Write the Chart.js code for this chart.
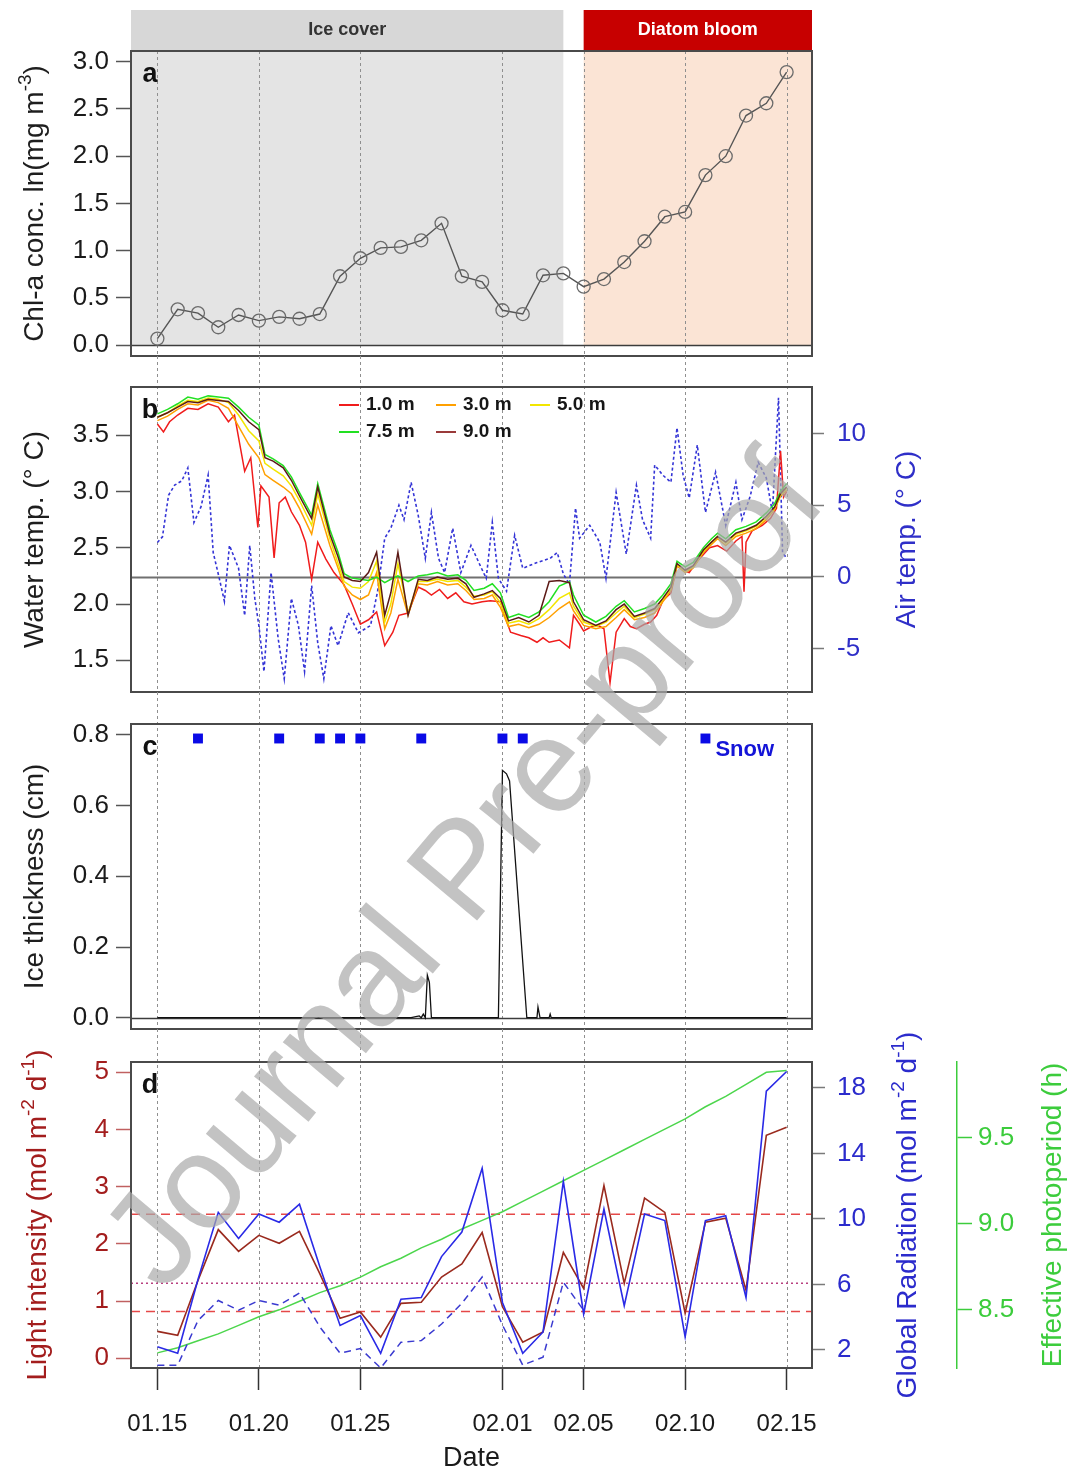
<!DOCTYPE html>
<html>
<head>
<meta charset="utf-8">
<title>Chl-a, water temperature, ice and light, January–February</title>
<script src="https://cdn.jsdelivr.net/npm/chart.js"></script>
<style>
  html, body { margin: 0; padding: 0; background: #ffffff; }
  #figure { position: relative; width: 1070px; height: 1475px; overflow: hidden; background: #ffffff; }
  #figure canvas { position: absolute; left: 0; top: 0; }
</style>
</head>
<body>
<div id="figure">
  <canvas id="panelA" width="1070" height="1475"></canvas>
  <canvas id="panelB" width="1070" height="1475"></canvas>
  <canvas id="panelC" width="1070" height="1475"></canvas>
  <canvas id="panelD" width="1070" height="1475"></canvas>
</div>
<script>
// ---------- dates (day number counted from 15 January) ----------
const dateTickDays   = [0, 5, 10, 17, 21, 26, 31];
const dateTickLabels = ['01.15', '01.20', '01.25', '02.01', '02.05', '02.10', '02.15'];
const sampleDays = [0, 1, 2, 3, 4, 5, 6, 7, 8, 9, 10, 11, 12, 13, 14, 15,
                    16, 17, 18, 19, 20, 21, 22, 23, 24, 25, 26, 27, 28, 29, 30, 31];

// ---------- periods ----------
const periodLabels = ['Ice cover', 'Diatom bloom'];
const iceCoverEndDay = 20;
const bloomStartDay = 21;

// ---------- (a) chlorophyll-a, ln(mg m-3) ----------
const chlA = [0.07, 0.38, 0.34, 0.19, 0.32, 0.26, 0.30, 0.28, 0.33, 0.73, 0.92, 1.03, 1.04, 1.11, 1.29, 0.73,
              0.67, 0.37, 0.33, 0.74, 0.76, 0.62, 0.70, 0.88, 1.10, 1.36, 1.41, 1.80, 2.00, 2.43, 2.56, 2.89];
const chlTicks = [0, 0.5, 1, 1.5, 2, 2.5, 3];

// ---------- (b) water temperature by depth [day, °C] ----------
const waterTemp1m = [[0,3.60],[0.3,3.53],[0.6,3.62],[1,3.68],[1.5,3.74],[2,3.73],[2.5,3.78],[3,3.75],[3.5,3.62],[3.8,3.68],
  [4.3,3.18],[4.6,3.30],[4.95,2.68],[5.1,3.05],[5.5,2.95],[5.75,2.41],[6.0,2.90],[6.3,2.95],[6.6,2.82],[7.0,2.70],
  [7.3,2.55],[7.6,2.22],[7.9,2.55],[8.3,2.40],[8.7,2.28],[9.2,2.17],[9.6,2.00],[10.0,1.82],[10.4,1.86],[10.8,1.93],
  [11.2,1.63],[11.6,1.75],[11.9,1.90],[12.35,1.92],[12.85,2.15],[13.2,2.12],[13.5,2.08],[13.9,2.13],[14.3,2.05],[14.7,2.10],
  [15.1,2.02],[15.5,2.00],[16.0,2.02],[16.4,2.03],[16.9,2.02],[17.2,1.85],[17.4,1.75],[17.9,1.72],[18.3,1.70],[18.7,1.66],
  [19.0,1.70],[19.3,1.66],[19.8,1.68],[20.3,1.61],[20.5,1.90],[20.8,1.82],[21.0,1.76],[21.4,1.80],[21.7,1.81],[22.0,1.78],
  [22.3,1.30],[22.6,1.75],[23.0,1.87],[23.3,1.80],[23.6,1.78],[24.0,1.82],[24.3,1.84],[24.6,1.90],[24.9,2.03],[25.3,2.10],
  [25.6,2.34],[25.9,2.30],[26.2,2.28],[26.6,2.38],[26.9,2.44],[27.2,2.50],[27.6,2.52],[28.05,2.47],[28.5,2.56],[28.8,2.60],
  [28.9,2.11],[29.0,2.55],[29.3,2.65],[29.8,2.70],[30.2,2.76],[30.5,2.85],[30.7,3.36],[30.85,2.95],[31,3.00]];
const waterTemp3m = [[0,3.63],[0.5,3.67],[1,3.73],[1.5,3.78],[2,3.77],[2.5,3.81],[3,3.79],[3.5,3.74],[4,3.58],[4.5,3.42],
  [5,3.30],[5.3,3.15],[5.7,3.10],[6.2,3.04],[6.6,2.98],[7,2.85],[7.6,2.62],[7.9,2.88],[8.5,2.52],[8.9,2.32],
  [9.2,2.16],[9.6,2.08],[10.0,2.04],[10.4,2.08],[10.8,2.28],[11.2,1.78],[11.5,1.92],[11.85,2.22],[12.35,1.90],[12.85,2.18],
  [13.3,2.17],[13.8,2.20],[14.3,2.17],[14.8,2.18],[15.2,2.12],[15.6,2.04],[16.1,2.05],[16.5,2.08],[16.9,1.97],[17.3,1.80],
  [17.8,1.82],[18.3,1.79],[18.8,1.82],[19.3,1.88],[19.8,1.96],[20.3,2.02],[20.5,1.94],[21.0,1.81],[21.6,1.78],[22.1,1.80],
  [22.6,1.88],[23.0,1.95],[23.5,1.86],[24.0,1.88],[24.5,1.92],[24.9,2.02],[25.3,2.12],[25.6,2.34],[26.0,2.28],[26.4,2.32],
  [26.9,2.46],[27.3,2.53],[27.6,2.58],[28.0,2.52],[28.5,2.60],[29.0,2.63],[29.5,2.67],[30.0,2.75],[30.4,2.84],[30.7,2.96],[31,3.01]];
const waterTemp5m = [[0,3.66],[0.5,3.70],[1,3.76],[1.5,3.81],[2,3.80],[2.5,3.83],[3,3.82],[3.5,3.79],[4,3.68],[4.5,3.54],
  [5,3.45],[5.3,3.25],[5.7,3.20],[6.2,3.14],[6.6,3.05],[7,2.92],[7.6,2.70],[7.9,2.98],[8.5,2.58],[8.9,2.36],
  [9.2,2.20],[9.6,2.15],[10.0,2.14],[10.4,2.20],[10.8,2.38],[11.2,1.84],[11.5,2.00],[11.85,2.36],[12.35,1.92],[12.85,2.20],
  [13.3,2.20],[13.8,2.22],[14.3,2.20],[14.8,2.21],[15.2,2.15],[15.6,2.07],[16.1,2.08],[16.5,2.11],[16.9,2.01],[17.3,1.83],
  [17.8,1.85],[18.3,1.82],[18.8,1.87],[19.3,1.95],[19.8,2.05],[20.3,2.10],[20.5,1.98],[21.0,1.84],[21.6,1.80],[22.1,1.84],
  [22.6,1.92],[23.0,1.98],[23.5,1.88],[24.0,1.91],[24.5,1.95],[24.9,2.04],[25.3,2.14],[25.6,2.35],[26.0,2.29],[26.4,2.33],
  [26.9,2.47],[27.3,2.55],[27.6,2.60],[28.0,2.54],[28.5,2.62],[29.0,2.65],[29.5,2.69],[30.0,2.77],[30.4,2.85],[30.7,2.97],[31,3.03]];
const waterTemp7m5 = [[0,3.69],[0.5,3.73],[1,3.78],[1.5,3.84],[2,3.82],[2.5,3.85],[3,3.84],[3.5,3.83],[4,3.75],[4.5,3.66],
  [5,3.59],[5.3,3.33],[5.7,3.29],[6.2,3.23],[6.6,3.13],[7,2.99],[7.6,2.79],[7.9,3.07],[8.5,2.66],[8.9,2.46],
  [9.2,2.27],[9.6,2.23],[10.0,2.22],[10.4,2.21],[10.8,2.24],[11.2,2.19],[11.5,2.22],[11.85,2.25],[12.35,2.20],[12.85,2.25],
  [13.3,2.26],[13.8,2.28],[14.3,2.25],[14.8,2.26],[15.2,2.21],[15.6,2.12],[16.1,2.14],[16.5,2.18],[16.9,2.10],[17.3,1.88],
  [17.8,1.91],[18.3,1.88],[18.8,1.93],[19.3,2.02],[19.8,2.16],[20.3,2.20],[20.5,2.08],[21.0,1.90],[21.6,1.84],[22.1,1.89],
  [22.6,1.98],[23.0,2.03],[23.5,1.93],[24.0,1.96],[24.5,2.00],[24.9,2.08],[25.3,2.18],[25.6,2.38],[26.0,2.33],[26.4,2.37],
  [26.9,2.50],[27.3,2.58],[27.6,2.63],[28.0,2.58],[28.5,2.66],[29.0,2.69],[29.5,2.73],[30.0,2.81],[30.4,2.89],[30.7,3.00],[31,3.07]];
const waterTemp9m = [[0,3.66],[0.5,3.70],[1,3.75],[1.5,3.80],[2,3.79],[2.5,3.82],[3,3.81],[3.5,3.80],[4,3.72],[4.5,3.62],
  [5,3.55],[5.3,3.30],[5.7,3.27],[6.2,3.21],[6.6,3.10],[7,2.96],[7.6,2.76],[7.9,3.04],[8.5,2.62],[8.9,2.42],
  [9.2,2.24],[9.6,2.21],[10.0,2.20],[10.4,2.28],[10.8,2.46],[11.2,1.90],[11.5,2.10],[11.85,2.46],[12.35,1.90],[12.85,2.22],
  [13.3,2.21],[13.8,2.24],[14.3,2.22],[14.8,2.23],[15.2,2.18],[15.6,2.06],[16.1,2.09],[16.5,2.12],[16.9,2.05],[17.3,1.85],
  [17.8,1.88],[18.3,1.84],[18.8,1.90],[19.3,2.20],[19.8,2.21],[20.3,2.19],[20.5,2.02],[21.0,1.86],[21.6,1.81],[22.1,1.85],
  [22.6,1.95],[23.0,2.00],[23.5,1.89],[24.0,1.92],[24.5,1.96],[24.9,2.05],[25.3,2.15],[25.6,2.36],[26.0,2.30],[26.4,2.34],
  [26.9,2.48],[27.3,2.55],[27.6,2.60],[28.0,2.55],[28.5,2.63],[29.0,2.66],[29.5,2.70],[30.0,2.78],[30.4,2.86],[30.7,2.98],[31,3.04]];
const waterTicks = [1.5, 2, 2.5, 3, 3.5];

// ---------- (b) air temperature [day, °C] ----------
const airTemp = [[0,2.4],[0.25,2.8],[0.55,5.7],[0.85,6.4],[1.2,6.7],[1.5,7.6],[1.8,3.8],[2.15,4.9],[2.5,7.1],[2.75,1.7],
  [3.05,-0.1],[3.3,-1.7],[3.55,2.2],[4.0,0.6],[4.3,-2.7],[4.55,2.2],[4.8,-1.5],[5.0,-3.4],[5.25,-6.6],[5.6,0.3],
  [5.95,-4.3],[6.25,-7.1],[6.6,-1.5],[6.95,-3.4],[7.25,-6.6],[7.6,-0.6],[7.9,-4.6],[8.2,-7.1],[8.55,-3.4],[8.9,-4.8],
  [9.4,-2.5],[9.9,-3.9],[10.5,-3.4],[10.85,-1.0],[11.2,2.7],[11.5,3.4],[11.9,5.0],[12.15,4.0],[12.5,6.6],[12.85,4.3],
  [13.2,1.3],[13.5,4.5],[13.85,1.3],[14.15,0.3],[14.55,3.4],[14.95,0.3],[15.45,2.2],[15.9,0.8],[16.2,-0.1],[16.5,3.8],
  [16.8,-0.1],[17.2,-1.0],[17.6,2.9],[18.0,0.6],[18.7,1.0],[19.35,1.3],[19.7,1.7],[20.0,0.2],[20.3,-0.5],[20.6,4.8],
  [20.8,2.7],[21.3,3.6],[21.8,2.4],[22.1,-0.1],[22.6,5.9],[23.1,1.6],[23.6,6.4],[23.9,4.0],[24.3,2.7],[24.5,7.8],
  [24.9,7.1],[25.3,6.6],[25.6,10.4],[25.9,7.1],[26.2,5.5],[26.6,9.2],[27.0,4.5],[27.5,7.3],[28.0,3.6],[28.5,6.6],
  [28.8,4.0],[29.2,5.6],[29.6,8.0],[30.0,6.9],[30.3,4.5],[30.6,12.5],[30.8,1.7],[31.0,1.3]];
const airTicks = [-5, 0, 5, 10];

// ---------- (c) ice thickness [day, cm] and snow days ----------
const iceThickness = [[0,0],[12.5,0],[12.9,0.005],[13.0,0],[13.1,0.01],[13.2,0],[13.3,0.12],[13.4,0.10],[13.5,0],
  [16.8,0],[17.0,0.70],[17.2,0.69],[17.35,0.67],[18.2,0],[18.7,0],[18.75,0.03],[18.85,0],[19.3,0],[19.35,0.01],[19.4,0],[31,0]];
const snowDays = [2, 6, 8, 9, 10, 13, 17, 18, 27];
const snowMarkLevel = 0.79;
const snowLabel = 'Snow';
const iceTicks = [0, 0.2, 0.4, 0.6, 0.8];

// ---------- (d) light ----------
const lightIntensity  = [0.47, 0.40, 1.36, 2.25, 1.87, 2.15, 2.01, 2.22, 1.48, 0.70, 0.81, 0.37, 0.96, 0.98, 1.42, 1.65,
                         2.20, 0.90, 0.28, 0.46, 1.85, 1.22, 3.02, 1.31, 2.80, 2.55, 0.79, 2.38, 2.45, 1.19, 3.90, 4.04];
const globalRadiation = [2.2, 1.8, 6.3, 10.4, 8.8, 10.3, 9.8, 10.9, 7.1, 3.5, 4.1, 1.8, 5.1, 5.2, 7.7, 9.2,
                         13.1, 4.9, 1.8, 3.1, 12.3, 4.2, 10.6, 4.7, 10.3, 9.9, 2.8, 9.9, 10.2, 5.2, 17.8, 19.0];
const underIceLight   = [-0.12, -0.12, 0.66, 1.01, 0.84, 1.01, 0.93, 1.14, 0.55, 0.09, 0.17, -0.17, 0.28, 0.31, 0.60, 0.96,
                         1.42, 0.58, -0.12, 0.02, 1.33, 0.84];
const photoperiod     = [8.25, 8.28, 8.32, 8.36, 8.41, 8.46, 8.50, 8.55, 8.60, 8.64, 8.69, 8.75, 8.80, 8.86, 8.91, 8.97,
                         9.02, 9.07, 9.13, 9.19, 9.25, 9.31, 9.37, 9.43, 9.49, 9.55, 9.61, 9.68, 9.74, 9.81, 9.88, 9.89];
const lightThresholds = [2.52, 1.31, 0.82];
const lightTicks = [0, 1, 2, 3, 4, 5];
const radiationTicks = [2, 6, 10, 14, 18];
const photoperiodTicks = [8.5, 9, 9.5];

// ---------- layout ----------
const FONT = '"Liberation Sans", Arial, Helvetica, sans-serif';
const W = 1070, H = 1475;
const PLOT_LEFT = 131, PLOT_RIGHT = 812;
const HEADER_TOP = 10;
const BOX = { a: [51, 356], b: [387, 692], c: [724, 1029], d: [1062, 1368] };
const X_MIN = -1.3, X_MAX = 32.25;
const BOTTOM_AXIS_H = H - BOX.d[1];

const pairs = list => list.map(([x, y]) => ({ x, y }));
const daily = vals => vals.map((y, i) => ({ x: sampleDays[i], y }));
const oneDecimal = v => v.toFixed(1);

function parseRich(str) {
  const parts = [], re = /\^\{([^}]*)\}/g;
  let last = 0, m;
  while ((m = re.exec(str))) {
    if (m.index > last) parts.push({ t: str.slice(last, m.index) });
    parts.push({ t: m[1], sup: true });
    last = re.lastIndex;
  }
  if (last < str.length) parts.push({ t: str.slice(last) });
  return parts;
}

// vertical axis title, reading bottom to top, with raised exponents
function drawVerticalTitle(ctx, text, cx, cy, color, size) {
  const parts = parseRich(text);
  const base = size + 'px ' + FONT, small = Math.round(size * 0.68) + 'px ' + FONT;
  let total = 0;
  parts.forEach(p => { ctx.font = p.sup ? small : base; p.w = ctx.measureText(p.t).width; total += p.w; });
  ctx.save();
  ctx.translate(cx, cy);
  ctx.rotate(-Math.PI / 2);
  ctx.fillStyle = color;
  ctx.textAlign = 'left';
  ctx.textBaseline = 'alphabetic';
  let x = -total / 2;
  const baseY = size * 0.36;
  parts.forEach(p => {
    ctx.font = p.sup ? small : base;
    ctx.fillText(p.t, x, p.sup ? baseY - size * 0.42 : baseY);
    x += p.w;
  });
  ctx.restore();
}

const decoPlugin = {
  id: 'deco',
  beforeDatasetsDraw(chart, args, o) {
    const { ctx, chartArea: ca, scales } = chart;
    const xs = scales.x;
    ctx.save();
    if (o.phases) {
      const y0 = scales.y.getPixelForValue(0);
      const xIce = xs.getPixelForValue(iceCoverEndDay);
      const xBloom = xs.getPixelForValue(bloomStartDay);
      ctx.fillStyle = '#e4e4e4';
      ctx.fillRect(ca.left, ca.top, xIce - ca.left, y0 - ca.top);
      ctx.fillStyle = '#fbe4d5';
      ctx.fillRect(xBloom, ca.top, ca.right - xBloom, y0 - ca.top);
      // period headers above the panel
      ctx.fillStyle = '#d7d7d7';
      ctx.fillRect(ca.left, HEADER_TOP, xIce - ca.left, ca.top - HEADER_TOP);
      ctx.fillStyle = '#c70000';
      ctx.fillRect(xBloom, HEADER_TOP, ca.right - xBloom, ca.top - HEADER_TOP);
      ctx.font = 'bold 18px ' + FONT;
      ctx.textAlign = 'center';
      ctx.textBaseline = 'middle';
      const hy = (HEADER_TOP + ca.top) / 2;
      ctx.fillStyle = '#333333';
      ctx.fillText(periodLabels[0], (ca.left + xIce) / 2, hy);
      ctx.fillStyle = '#ffffff';
      ctx.fillText(periodLabels[1], (xBloom + ca.right) / 2, hy);
    }
    // dashed date guides, running on through the gap above the panel
    const top = o.lineTop != null ? o.lineTop : ca.top;
    ctx.strokeStyle = '#8f8f8f';
    ctx.lineWidth = 1;
    ctx.setLineDash([3, 3]);
    dateTickDays.forEach(d => {
      const x = Math.round(xs.getPixelForValue(d)) + 0.5;
      ctx.beginPath(); ctx.moveTo(x, top); ctx.lineTo(x, ca.bottom); ctx.stroke();
    });
    ctx.setLineDash([]);
    if (o.zeroLine) {
      const y = Math.round(scales[o.zeroLine.axis].getPixelForValue(0)) + 0.5;
      ctx.strokeStyle = o.zeroLine.color;
      ctx.lineWidth = o.zeroLine.width;
      ctx.beginPath(); ctx.moveTo(ca.left, y); ctx.lineTo(ca.right, y); ctx.stroke();
    }
    ctx.restore();
  },
  afterDatasetsDraw(chart, args, o) {
    const { ctx, chartArea: ca } = chart;
    ctx.save();
    ctx.strokeStyle = '#4a4a4a';
    ctx.lineWidth = 2;
    ctx.strokeRect(ca.left, ca.top, ca.right - ca.left, ca.bottom - ca.top);
    if (o.letter) {
      ctx.font = 'bold 27px ' + FONT;
      ctx.fillStyle = '#111';
      ctx.textAlign = 'center';
      ctx.textBaseline = 'middle';
      ctx.fillText(o.letter, ca.left + 19, ca.top + 24);
    }
    if (o.legend) {
      const L = o.legend;
      ctx.font = 'bold 19px ' + FONT;
      ctx.textAlign = 'left';
      ctx.textBaseline = 'middle';
      L.rows.forEach((row, r) => row.forEach((label, c) => {
        const ds = chart.data.datasets.find(d => d.label === label);
        const x = ca.left + L.cols[c], y = ca.top + L.rowY[r];
        ctx.strokeStyle = ds.legendColor || ds.borderColor;
        ctx.lineWidth = 2;
        ctx.beginPath(); ctx.moveTo(x, y); ctx.lineTo(x + 20, y); ctx.stroke();
        ctx.fillStyle = '#161616';
        ctx.fillText(label, x + 27, y);
      }));
    }
    if (o.snowLabel) {
      const meta = chart.getDatasetMeta(o.snowLabel.dataset);
      const pt = meta.data[meta.data.length - 1];
      ctx.font = 'bold 22px ' + FONT;
      ctx.fillStyle = '#1414d8';
      ctx.textAlign = 'left';
      ctx.textBaseline = 'middle';
      ctx.fillText(o.snowLabel.text, pt.x + 10, pt.y + 11);
    }
    ctx.restore();
  },
  afterDraw(chart, args, o) {
    const { ctx, chartArea: ca } = chart;
    const cy = (ca.top + ca.bottom) / 2;
    (o.titles || []).forEach(t => drawVerticalTitle(ctx, t.text, t.x, cy, t.color, 28));
    if (o.watermark) {
      const wm = o.watermark;
      ctx.save();
      ctx.translate(wm.x, wm.y);
      ctx.rotate(wm.angle * Math.PI / 180);
      ctx.font = wm.size + 'px ' + FONT;
      ctx.fillStyle = 'rgba(170,170,170,0.7)';
      ctx.textAlign = 'center';
      ctx.textBaseline = 'middle';
      ctx.fillText(wm.text, 0, 0);
      ctx.restore();
    }
  }
};
Chart.register(decoPlugin);

function valueAxis(cfg) {
  return {
    type: 'linear',
    position: cfg.position || 'left',
    min: cfg.min, max: cfg.max,
    afterBuildTicks: s => { s.ticks = cfg.ticks.map(v => ({ value: v })); },
    afterFit: s => { s.width = cfg.width; },
    border: cfg.axisLine ? { display: true, color: cfg.axisLine, width: 1.5 } : { display: false },
    grid: { display: true, drawOnChartArea: false, drawTicks: true,
            tickLength: cfg.tickLength || 15, tickColor: cfg.tickColor || '#555', tickWidth: 1.5 },
    ticks: { autoSkip: false, padding: cfg.padding == null ? 7 : cfg.padding,
             color: cfg.color || '#1a1a1a', font: { family: FONT, size: 26 },
             callback: cfg.format || (v => String(v)) }
  };
}

function dateAxis(show) {
  return {
    type: 'linear', display: show, min: X_MIN, max: X_MAX,
    afterBuildTicks: s => { s.ticks = dateTickDays.map(v => ({ value: v })); },
    afterFit: s => { if (show) s.height = BOTTOM_AXIS_H; },
    border: { display: false },
    grid: { display: true, drawOnChartArea: false, drawTicks: true, tickLength: 22, tickColor: '#333', tickWidth: 1.5 },
    ticks: { autoSkip: false, maxRotation: 0, padding: 20, color: '#1a1a1a',
             font: { family: FONT, size: 24 }, callback: (v, i) => dateTickLabels[i] },
    title: { display: show, text: 'Date', color: '#1a1a1a', font: { family: FONT, size: 27 },
             padding: { top: 0, bottom: 0 } }
  };
}

function baseOptions(box, padRight, axisBottom, scales, deco) {
  return {
    responsive: false, animation: false, devicePixelRatio: 1, events: [],
    layout: { padding: { left: 0, right: padRight, top: box[0], bottom: H - box[1] - axisBottom } },
    scales,
    plugins: { legend: { display: false }, tooltip: { enabled: false }, deco }
  };
}

function lineSet(label, data, color, width, extra) {
  return Object.assign({ label, data, borderColor: color, backgroundColor: color, borderWidth: width,
                         pointRadius: 0, fill: false, tension: 0 }, extra || {});
}

// ---------- (a) ----------
new Chart(document.getElementById('panelA'), {
  type: 'line',
  data: { datasets: [
    lineSet('Chl-a', daily(chlA), '#555555', 1.4,
            { pointRadius: 6.5, pointBorderColor: '#6b6b6b', pointBackgroundColor: 'rgba(0,0,0,0)', pointBorderWidth: 1.3 })
  ]},
  options: baseOptions(BOX.a, W - PLOT_RIGHT, 0, {
    x: dateAxis(false),
    y: valueAxis({ min: -0.114, max: 3.113, ticks: chlTicks, width: PLOT_LEFT, format: oneDecimal })
  }, {
    letter: 'a', phases: true,
    zeroLine: { axis: 'y', color: '#3c3c3c', width: 1.6 },
    titles: [{ text: 'Chl-a conc. ln(mg m^{-3})', x: 33, color: '#1e1e1e' }]
  })
});

// ---------- (b) ----------
new Chart(document.getElementById('panelB'), {
  type: 'line',
  data: { datasets: [
    lineSet('9.0 m', pairs(waterTemp9m), '#5c1a16', 1.5, { legendColor: '#9a3a3a' }),
    lineSet('7.5 m', pairs(waterTemp7m5), '#22e022', 1.5),
    lineSet('5.0 m', pairs(waterTemp5m), '#f2e600', 1.5),
    lineSet('3.0 m', pairs(waterTemp3m), '#ffa000', 1.5),
    lineSet('1.0 m', pairs(waterTemp1m), '#f01c1c', 1.5),
    lineSet('Air', pairs(airTemp), '#3434d6', 1.6, { borderDash: [3, 2.5], yAxisID: 'yA' })
  ]},
  options: baseOptions(BOX.b, 0, 0, {
    x: dateAxis(false),
    y: valueAxis({ min: 1.218, max: 3.929, ticks: waterTicks, width: PLOT_LEFT, format: oneDecimal }),
    yA: valueAxis({ position: 'right', min: -8.03, max: 13.25, ticks: airTicks, width: W - PLOT_RIGHT,
                    color: '#2f2fc8', tickColor: '#7a7a7a', axisLine: '#3a3ad0', tickLength: 12, padding: 13 })
  }, {
    letter: 'b', lineTop: BOX.a[1],
    zeroLine: { axis: 'yA', color: '#707070', width: 2 },
    legend: { rows: [['1.0 m', '3.0 m', '5.0 m'], ['7.5 m', '9.0 m']], cols: [208, 305, 399], rowY: [18, 45] },
    titles: [{ text: 'Water temp. (° C)', x: 33, color: '#1e1e1e' },
             { text: 'Air temp. (° C)', x: 905, color: '#2f2fc8' }]
  })
});

// ---------- (c) ----------
new Chart(document.getElementById('panelC'), {
  type: 'line',
  data: { datasets: [
    lineSet('Snow', snowDays.map(d => ({ x: d, y: snowMarkLevel })), '#0a0ae6', 0,
            { showLine: false, pointStyle: 'rect', pointRadius: 7, pointBorderWidth: 0, pointBackgroundColor: '#0a0ae6' }),
    lineSet('Ice thickness', pairs(iceThickness), '#111111', 1.3)
  ]},
  options: baseOptions(BOX.c, W - PLOT_RIGHT, 0, {
    x: dateAxis(false),
    y: valueAxis({ min: -0.032, max: 0.831, ticks: iceTicks, width: PLOT_LEFT, format: oneDecimal })
  }, {
    letter: 'c', lineTop: BOX.b[1],
    zeroLine: { axis: 'y', color: '#3c3c3c', width: 1.6 },
    snowLabel: { dataset: 0, text: snowLabel },
    titles: [{ text: 'Ice thickness (cm)', x: 33, color: '#1e1e1e' }]
  })
});

// ---------- (d) ----------
new Chart(document.getElementById('panelD'), {
  type: 'line',
  data: { datasets: [
    lineSet('Global radiation', daily(globalRadiation), '#2a2ae6', 1.6, { yAxisID: 'yG' }),
    lineSet('Light intensity', daily(lightIntensity), '#9a2a1e', 1.6),
    lineSet('Under-ice light', daily(underIceLight), '#3a3ad0', 1.5, { borderDash: [7, 5] }),
    lineSet('Photoperiod', daily(photoperiod), '#4cd64c', 1.5, { yAxisID: 'yP' }),
    ...lightThresholds.map((v, i) => lineSet('Threshold ' + v, [{ x: X_MIN, y: v }, { x: X_MAX, y: v }],
        i === 1 ? '#b8407f' : '#e54848', 1.5, { borderDash: i === 1 ? [2, 3] : [9, 6] }))
  ]},
  options: baseOptions(BOX.d, 0, BOTTOM_AXIS_H, {
    x: dateAxis(true),
    y: valueAxis({ min: -0.17, max: 5.18, ticks: lightTicks, width: PLOT_LEFT, color: '#a31d1d',
                   tickColor: '#c06060', axisLine: '#c05050' }),
    yG: valueAxis({ position: 'right', min: 0.90, max: 19.58, ticks: radiationTicks, width: 145,
                    color: '#2b2bcc', tickColor: '#7a7a7a', axisLine: '#3a3ad0', tickLength: 13, padding: 12 }),
    yP: valueAxis({ position: 'right', min: 8.162, max: 9.94, ticks: photoperiodTicks, width: W - PLOT_RIGHT - 145,
                    color: '#3ccc3c', tickColor: '#3ccc3c', axisLine: '#3ccc3c', tickLength: 15, padding: 6,
                    format: oneDecimal })
  }, {
    letter: 'd', lineTop: BOX.c[1],
    titles: [{ text: 'Light intensity (mol m^{-2} d^{-1})', x: 36, color: '#a31d1d' },
             { text: 'Global Radiation (mol m^{-2} d^{-1})', x: 906, color: '#2b2bcc' },
             { text: 'Effective photoperiod (h)', x: 1051, color: '#3ccc3c' }],
    watermark: { text: 'Journal Pre-proof', x: 468, y: 874, angle: -50, size: 134 }
  })
});
</script>
</body>
</html>
